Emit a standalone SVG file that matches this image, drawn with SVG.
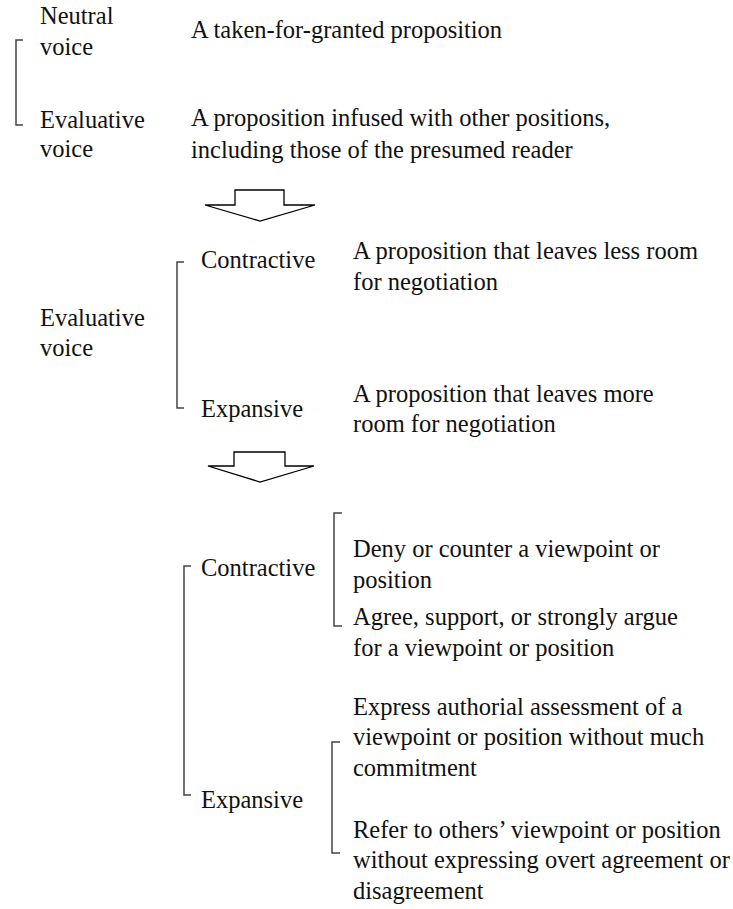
<svg xmlns="http://www.w3.org/2000/svg" width="733" height="909" viewBox="0 0 733 909">
<rect width="733" height="909" fill="#fff"/>
<g id="connectors" fill="none">
<g stroke="#444" stroke-width="1.5">
<path d="M23,40 H16 V125 H23"/>
<path d="M184,262 H177 V408 H184"/>
<path d="M342,513 H334 V626 H342"/>
<path d="M191,566 H184 V795 H191"/>
<path d="M340,742 H332 V853 H340"/>
</g>
<g fill="#fff" stroke="#000" stroke-width="1.3">
<path d="M235,190 H284 V205 H315 L260,221 L205,205 H235 Z"/>
<path d="M234,452 H285 V466 H314 L260,482 L208,466 H234 Z"/>
</g>
</g>
<g id="neutral-voice"><text x="40" y="24" font-family="Liberation Serif" font-size="24.5" fill="#111">Neutral</text><text x="40" y="55" font-family="Liberation Serif" font-size="24.5" fill="#111">voice</text></g>
<g id="neutral-desc"><text x="191" y="38" font-family="Liberation Serif" font-size="24.5" fill="#111">A taken-for-granted proposition</text></g>
<g id="evaluative-voice-1"><text x="40" y="128" font-family="Liberation Serif" font-size="24.5" fill="#111">Evaluative</text><text x="40" y="157" font-family="Liberation Serif" font-size="24.5" fill="#111">voice</text></g>
<g id="evaluative-desc"><text x="191" y="126" font-family="Liberation Serif" font-size="24.5" fill="#111">A proposition infused with other positions,</text><text x="191" y="158" font-family="Liberation Serif" font-size="24.5" fill="#111">including those of the presumed reader</text></g>
<g id="evaluative-voice-2"><text x="40" y="326" font-family="Liberation Serif" font-size="24.5" fill="#111">Evaluative</text><text x="40" y="356" font-family="Liberation Serif" font-size="24.5" fill="#111">voice</text></g>
<g id="contractive-1"><text x="201" y="268" font-family="Liberation Serif" font-size="24.5" fill="#111">Contractive</text></g>
<g id="contractive-1-desc"><text x="353" y="259" font-family="Liberation Serif" font-size="24.5" fill="#111">A proposition that leaves less room</text><text x="353" y="290" font-family="Liberation Serif" font-size="24.5" fill="#111">for negotiation</text></g>
<g id="expansive-1"><text x="201" y="417" font-family="Liberation Serif" font-size="24.5" fill="#111">Expansive</text></g>
<g id="expansive-1-desc"><text x="353" y="402" font-family="Liberation Serif" font-size="24.5" fill="#111">A proposition that leaves more</text><text x="353" y="432" font-family="Liberation Serif" font-size="24.5" fill="#111">room for negotiation</text></g>
<g id="contractive-2"><text x="201" y="576" font-family="Liberation Serif" font-size="24.5" fill="#111">Contractive</text></g>
<g id="deny"><text x="353" y="557" font-family="Liberation Serif" font-size="24.5" fill="#111">Deny or counter a viewpoint or</text><text x="353" y="588" font-family="Liberation Serif" font-size="24.5" fill="#111">position</text></g>
<g id="agree"><text x="353" y="625" font-family="Liberation Serif" font-size="24.5" fill="#111">Agree, support, or strongly argue</text><text x="353" y="656" font-family="Liberation Serif" font-size="24.5" fill="#111">for a viewpoint or position</text></g>
<g id="expansive-2"><text x="201" y="808" font-family="Liberation Serif" font-size="24.5" fill="#111">Expansive</text></g>
<g id="express"><text x="353" y="715" font-family="Liberation Serif" font-size="24.5" fill="#111">Express authorial assessment of a</text><text x="353" y="745" font-family="Liberation Serif" font-size="24.5" fill="#111">viewpoint or position without much</text><text x="353" y="776" font-family="Liberation Serif" font-size="24.5" fill="#111">commitment</text></g>
<g id="refer"><text x="353" y="838" font-family="Liberation Serif" font-size="24.5" fill="#111">Refer to others’ viewpoint or position</text><text x="353" y="868" font-family="Liberation Serif" font-size="24.5" fill="#111">without expressing overt agreement or</text><text x="353" y="899" font-family="Liberation Serif" font-size="24.5" fill="#111">disagreement</text></g>
</svg>
